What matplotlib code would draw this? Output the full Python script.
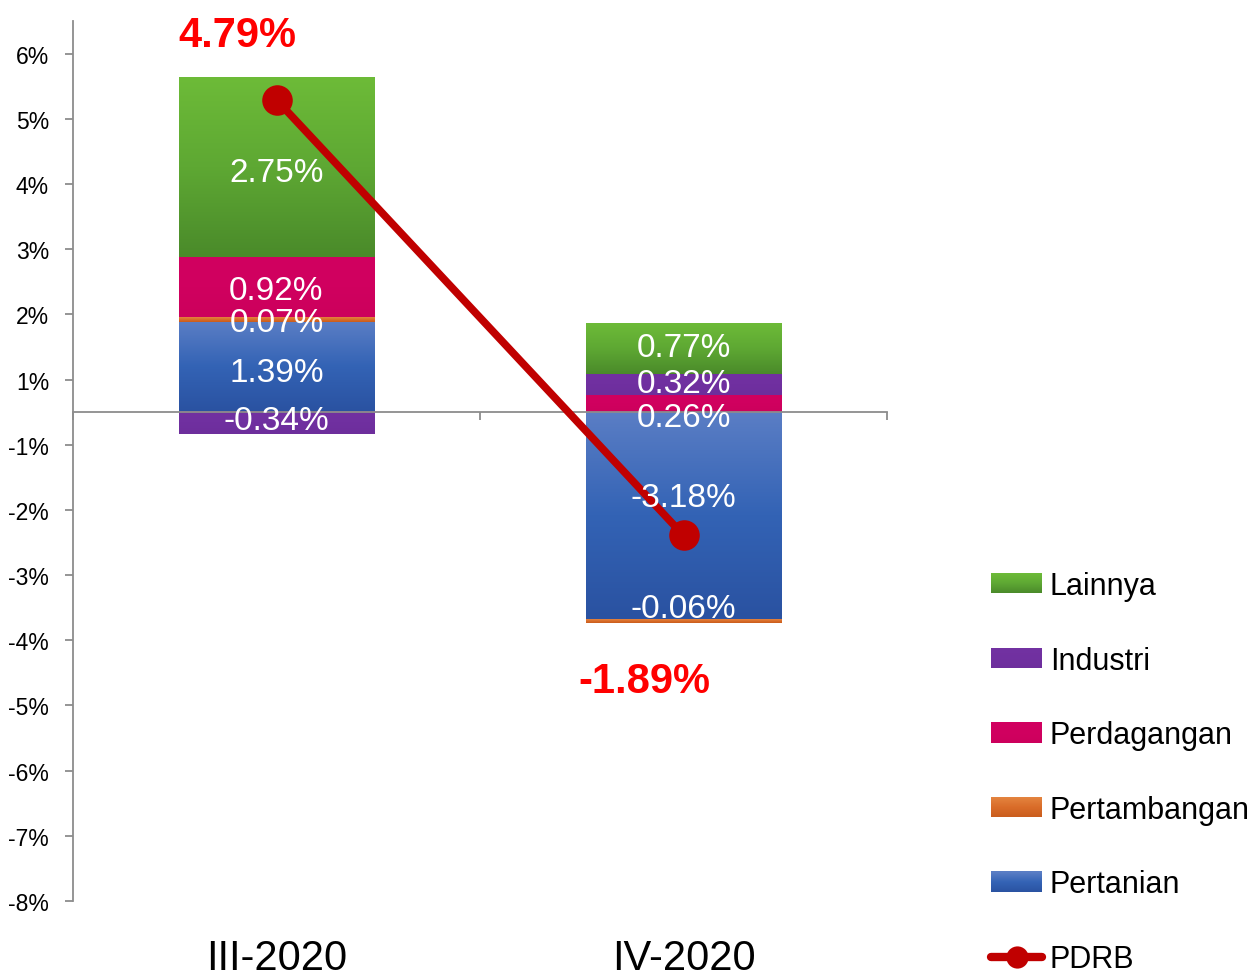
import numpy as np
import matplotlib
matplotlib.use("Agg")
import matplotlib.pyplot as plt
from matplotlib.patches import Rectangle, Patch
from matplotlib.lines import Line2D
from matplotlib.legend_handler import HandlerBase
from matplotlib.colors import LinearSegmentedColormap

# ---------------- data ----------------
categories = ["III-2020", "IV-2020"]
series_names = ["Pertanian", "Pertambangan", "Perdagangan", "Industri", "Lainnya"]
pertanian = [1.39, -3.18]
pertambangan = [0.07, -0.06]
perdagangan = [0.92, 0.26]
industri = [-0.34, 0.32]
lainnya = [2.75, 0.77]
pdrb = [4.79, -1.89]
ytick_labels = ["-8%", "-7%", "-6%", "-5%", "-4%", "-3%", "-2%", "-1%",
                "1%", "2%", "3%", "4%", "5%", "6%"]

series_values = [pertanian, pertambangan, perdagangan, industri, lainnya]

# ---------------- style ----------------
FONT = ["Liberation Sans", "DejaVu Sans"]
gradients = {
    "Pertanian": ["#5b7ec5", "#3363b5", "#2a52a1"],
    "Pertambangan": ["#e3843f", "#d96c29", "#c95c1c"],
    "Perdagangan": ["#d10060", "#d0005f", "#cc005c"],
    "Industri": ["#7231a1", "#7030a0", "#6d2e9c"],
    "Lainnya": ["#6dbb38", "#5ea833", "#4a8a2a"],
}
# label nudges in pixels (positive = up), per series per category
label_nudge = {
    "Pertanian": [-2, 22],
    "Pertambangan": [0, 16],
    "Perdagangan": [0, -10],
    "Industri": [6, 5],
    "Lainnya": [-2, 5],
}
LABEL_SHIFT = -3.5
PX = 0.72  # points per pixel at dpi 100
line_color = "#c00000"

fig = plt.figure(figsize=(12.53, 9.78), dpi=100)
ax = fig.add_axes([73 / 1253, 76 / 978, 814 / 1253, 880 / 978])

x = np.arange(len(categories))
bar_w = 0.48
pos_base = np.zeros(len(categories))
neg_base = np.zeros(len(categories))

for name, vals in zip(series_names, series_values):
    vals = np.array(vals, dtype=float)
    bottoms = np.where(vals >= 0, pos_base, neg_base)
    bars = ax.bar(x, vals, bar_w, bottom=bottoms, color=gradients[name][1],
                  linewidth=0, zorder=2)
    cmap = LinearSegmentedColormap.from_list(name, gradients[name])
    grad = np.linspace(0, 1, 256).reshape(-1, 1)
    for i, p in enumerate(bars.patches):
        bb = p.get_bbox()
        y_lo, y_hi = min(bb.y0, bb.y1), max(bb.y0, bb.y1)
        ax.imshow(grad, cmap=cmap, extent=[bb.x0, bb.x1, y_lo, y_hi],
                  origin="upper", aspect="auto", zorder=2.1,
                  interpolation="bilinear")
        center = bottoms[i] + vals[i] / 2
        ax.annotate(f"{vals[i]:.2f}%", xy=(x[i], center),
                    xytext=(0, (label_nudge[name][i] + LABEL_SHIFT) * PX),
                    textcoords="offset points",
                    ha="center", va="center", color="white", fontsize=24,
                    family=FONT, zorder=6)
    pos_base = pos_base + np.where(vals >= 0, vals, 0)
    neg_base = neg_base + np.where(vals < 0, vals, 0)

# PDRB line
ax.plot(x, pdrb, color=line_color, lw=5.5, marker="o", markersize=22,
        markeredgewidth=0, zorder=4, solid_capstyle="round")
pdrb_offsets = [(-39, 65), (-39, -146)]
for i, v in enumerate(pdrb):
    ax.annotate(f"{v:.2f}%", xy=(x[i], v),
                xytext=(pdrb_offsets[i][0] * PX, pdrb_offsets[i][1] * PX),
                textcoords="offset points", ha="center", va="center",
                color="#ff0000", fontsize=30, fontweight="bold", family=FONT,
                zorder=7, annotation_clip=False)

# axes
ax.set_xlim(-0.5, 1.5)
ax.set_ylim(-7.5, 6.0)
ax.set_aspect("auto")
for s in ["top", "right"]:
    ax.spines[s].set_visible(False)
axis_col = "#8c8c8c"
ax.spines["left"].set_color(axis_col)
ax.spines["left"].set_linewidth(1.3)
ax.spines["bottom"].set_position(("data", 0))
ax.spines["bottom"].set_color(axis_col)
ax.spines["bottom"].set_linewidth(1.3)
ax.spines["bottom"].set_zorder(3)

ax.set_yticks(np.arange(-7.5, 6.0, 1.0))
ax.set_yticklabels(ytick_labels, family=FONT, fontsize=16.5)
ax.tick_params(axis="y", direction="out", length=8 * PX, width=1.3,
               color=axis_col, pad=11.5)
ax.set_xticks([-0.5, 0.5, 1.5])
ax.set_xticklabels([])
ax.tick_params(axis="x", direction="out", length=8 * PX, width=1.3, color=axis_col)

tr = ax.get_xaxis_transform()
for i, c in enumerate(categories):
    ax.text(x[i], -68 / 880, c, transform=tr, ha="center", va="baseline",
            fontsize=30, family=FONT, clip_on=False)

# legend with gradient keys
class GradientHandler(HandlerBase):
    def create_artists(self, legend, orig_handle, xdescent, ydescent,
                       width, height, fontsize, trans):
        stops = gradients[orig_handle.get_label()]
        cmap = LinearSegmentedColormap.from_list("g", stops)
        n = 20
        arts = []
        h = height / n
        for k in range(n):
            col = cmap(1 - (k + 0.5) / n)
            r = Rectangle((-xdescent, -ydescent + k * h), width, h * 1.05,
                          facecolor=col, edgecolor="none", transform=trans)
            arts.append(r)
        return arts

leg_names = ["Lainnya", "Industri", "Perdagangan", "Pertambangan", "Pertanian"]
handles = [Patch(label=n) for n in leg_names]
pdrb_handle = Line2D([], [], color=line_color, lw=6, marker="o", markersize=16,
                     markeredgewidth=0, solid_capstyle="round", label="PDRB")
handles.append(pdrb_handle)
hmap = {h: GradientHandler() for h in handles[:-1]}
leg = fig.legend(handles=handles, labels=leg_names + ["PDRB"], handler_map=hmap,
                 loc="upper left", bbox_to_anchor=(991 / 1253, 1 - 572 / 978),
                 frameon=False, prop={"family": FONT, "size": 22},
                 handlelength=1.67, handleheight=0.65, handletextpad=0.25,
                 labelspacing=1.46, borderpad=0, borderaxespad=0)

fig.savefig("out.png", dpi=100)
